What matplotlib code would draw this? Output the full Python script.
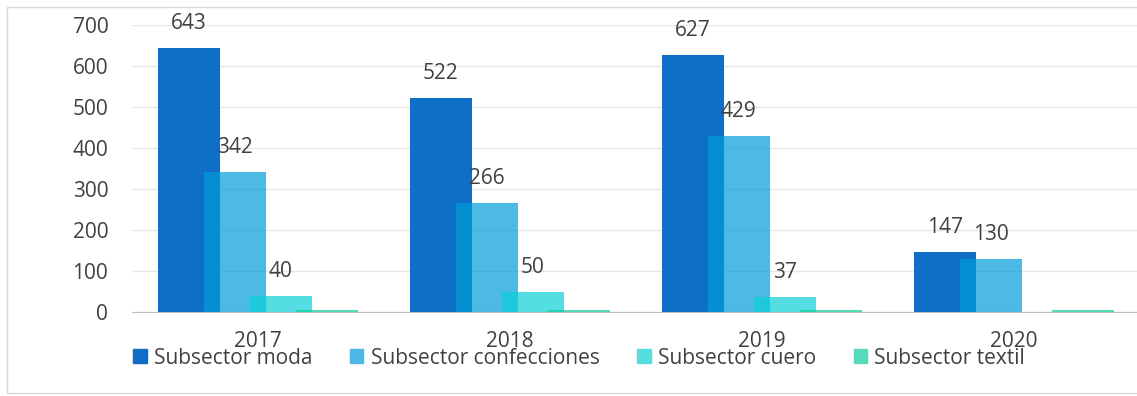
import numpy as np
import matplotlib.pyplot as plt
from matplotlib.patches import Rectangle, Patch

plt.rcParams['font.family'] = ['Open Sans', 'DejaVu Sans']

# data
years = ['2017', '2018', '2019', '2020']
series = ['Subsector moda', 'Subsector confecciones', 'Subsector cuero', 'Subsector textil']
moda = [643, 522, 627, 147]
confecciones = [342, 266, 429, 130]
cuero = [40, 50, 37, 0]
textil = [5, 5, 5, 5]

values = [moda, confecciones, cuero, textil]
colors = ['#0F6FC6', '#009DD9', '#0BD0D9', '#10CF9B']
legend_colors = ['#0F6FC6', '#4CB8E6', '#55DDE0', '#58D9B9']
alphas = [1.0, 0.7, 0.7, 0.7]
show_labels = [True, True, True, False]

fig = plt.figure(figsize=(11.37, 3.96), dpi=100)
ax = fig.add_axes([0.116, 0.212, 0.884, 0.725])

x = np.arange(len(years))
step = 0.1825
width = 0.246
text_color = '#404040'
fs = 15

for i, (vals, name) in enumerate(zip(values, series)):
    pos = x + (i - 1.5) * step
    ax.bar(pos, vals, width=width, color=colors[i], alpha=alphas[i], zorder=2 + i)
    if show_labels[i]:
        for p, v in zip(pos, vals):
            if v > 0:
                ax.annotate(str(v), (p, v), xytext=(0, 10), textcoords='offset points',
                            ha='center', va='bottom', fontsize=fs, color=text_color)

ax.set_xlim(-0.5, 3.49)
ax.set_ylim(0, 700)
ax.set_yticks(range(0, 701, 100))
ax.set_xticks(x)
ax.set_xticklabels(years)
ax.tick_params(axis='both', length=0, labelsize=fs, colors=text_color)
ax.tick_params(axis='x', pad=14)
ax.tick_params(axis='y', pad=17)
ax.grid(axis='y', color='#E6E6E6', linewidth=1, zorder=0)
ax.set_axisbelow(True)
for s in ['top', 'right', 'left']:
    ax.spines[s].set_visible(False)
ax.spines['bottom'].set_color('#BFBFBF')

handles = [Patch(color=c, label=n) for c, n in zip(legend_colors, series)]
fig.legend(handles=handles, loc='center left', bbox_to_anchor=(133 / 1137, 1 - 358 / 396),
           ncol=4, frameon=False, fontsize=fs, handlelength=0.65, handleheight=0.65,
           handletextpad=0.35, columnspacing=1.8, labelcolor=text_color,
           borderaxespad=0, borderpad=0)

fig.patches.append(Rectangle((7 / 1137, 3 / 396), 1.0, 1 - 10 / 396,
                             transform=fig.transFigure, fill=False,
                             edgecolor='#D9D9D9', linewidth=1))

fig.savefig('out.png', dpi=100)
